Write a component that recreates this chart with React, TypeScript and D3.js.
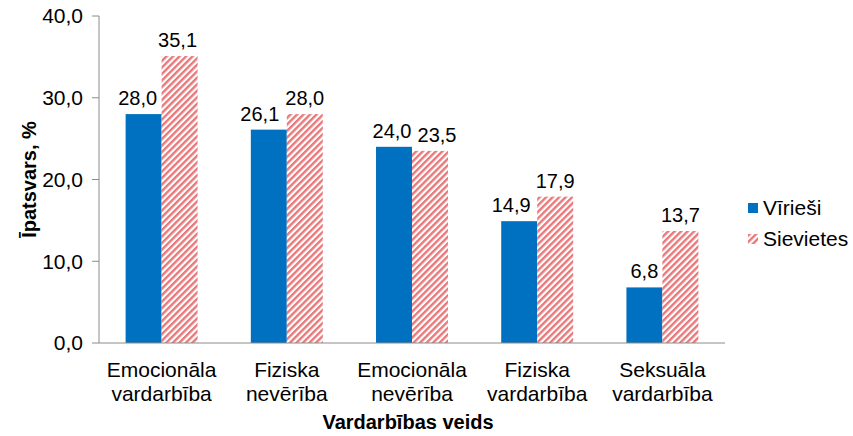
import React from 'react'
import * as d3 from 'd3'

const categories = [
  ['Emocionāla', 'vardarbība'],
  ['Fiziska', 'nevērība'],
  ['Emocionāla', 'nevērība'],
  ['Fiziska', 'vardarbība'],
  ['Seksuāla', 'vardarbība']
]
const seriesNames = ['Vīrieši', 'Sievietes']
const men = [28.0, 26.1, 24.0, 14.9, 6.8]
const women = [35.1, 28.0, 23.5, 17.9, 13.7]
const yTicks = [0, 10, 20, 30, 40]

// small sideways nudges of value labels, as the original pushes them apart
const labelNudge = [
  [-6, -9, -2, -8, 0],
  [-2, 0, 7, 0, 0]
]

const W = 853
const H = 436
const margin = {top: 16, right: 128, bottom: 93, left: 99}
const font = '"Liberation Sans", Arial, sans-serif'
const blue = '#0070C0'
const pink = '#E8787A'

const fmt = (v: number) => d3.format('.1f')(v).replace('.', ',')

export default function App() {
  const keys = categories.map((c, i) => String(i))
  const x = d3
    .scaleBand()
    .domain(keys)
    .range([margin.left, W - margin.right])
    .padding(0)
  const xs = d3
    .scaleBand()
    .domain(seriesNames)
    .range([0, x.bandwidth()])
    .paddingInner(0)
    .paddingOuter(0.74)
  const y = d3
    .scaleLinear()
    .domain([0, 40])
    .range([H - margin.bottom, margin.top])

  const values = [men, women]
  const fills = [blue, 'url(#hatch)']

  return (
    <svg
      width={W}
      height={H}
      style={{position: 'absolute', left: 0, top: 0, background: '#fff'}}
      fontFamily={font}
    >
      <defs>
        <pattern
          id="hatch"
          patternUnits="userSpaceOnUse"
          width="4.6"
          height="4.6"
          patternTransform="rotate(45)"
        >
          <rect width="4.6" height="4.6" fill="#fff" />
          <rect width="2.4" height="4.6" fill={pink} />
        </pattern>
      </defs>

      {/* bars */}
      {keys.map((k, i) =>
        seriesNames.map((s, j) => {
          const v = values[j][i]
          const bx = (x(k) as number) + (xs(s) as number)
          return (
            <g key={k + s}>
              <rect
                x={bx}
                y={y(v)}
                width={xs.bandwidth()}
                height={y(0) - y(v)}
                fill={fills[j]}
              />
              <text
                x={bx + xs.bandwidth() / 2 + labelNudge[j][i]}
                y={y(v) - 9}
                textAnchor="middle"
                fontSize="20"
                fill="#000"
              >
                {fmt(v)}
              </text>
            </g>
          )
        })
      )}

      {/* y axis */}
      <line
        x1={margin.left}
        x2={margin.left}
        y1={y(40)}
        y2={y(0)}
        stroke="#8c8c8c"
        strokeWidth="1"
      />
      {yTicks.map(t => (
        <g key={t}>
          <line
            x1={margin.left - 7}
            x2={margin.left}
            y1={y(t)}
            y2={y(t)}
            stroke="#8c8c8c"
          />
          <text
            x={margin.left - 16}
            y={y(t)}
            dy="0.35em"
            textAnchor="end"
            fontSize="21"
            fill="#000"
          >
            {fmt(t)}
          </text>
        </g>
      ))}

      {/* x axis */}
      <line
        x1={margin.left}
        x2={W - margin.right}
        y1={y(0)}
        y2={y(0)}
        stroke="#8c8c8c"
      />
      {keys.map((k, i) => (
        <text
          key={k}
          x={(x(k) as number) + x.bandwidth() / 2}
          textAnchor="middle"
          fontSize="21"
          fill="#000"
        >
          <tspan x={(x(k) as number) + x.bandwidth() / 2} y={377}>
            {categories[i][0]}
          </tspan>
          <tspan x={(x(k) as number) + x.bandwidth() / 2} y={401}>
            {categories[i][1]}
          </tspan>
        </text>
      ))}

      {/* axis titles */}
      <text
        x={(margin.left + W - margin.right) / 2 - 4}
        y={429}
        textAnchor="middle"
        fontSize="20"
        fontWeight="bold"
      >
        Vardarbības veids
      </text>
      <text
        transform={`translate(36, ${(y(0) + y(40)) / 2}) rotate(-90)`}
        textAnchor="middle"
        fontSize="20"
        fontWeight="bold"
      >
        Īpatsvars, %
      </text>

      {/* legend */}
      {seriesNames.map((s, j) => (
        <g key={s} transform={`translate(748, ${203 + j * 31})`}>
          <rect width="10" height="10" fill={fills[j]} />
          <text x="15" y="12" fontSize="21" fill="#000">
            {s}
          </text>
        </g>
      ))}
    </svg>
  )
}
